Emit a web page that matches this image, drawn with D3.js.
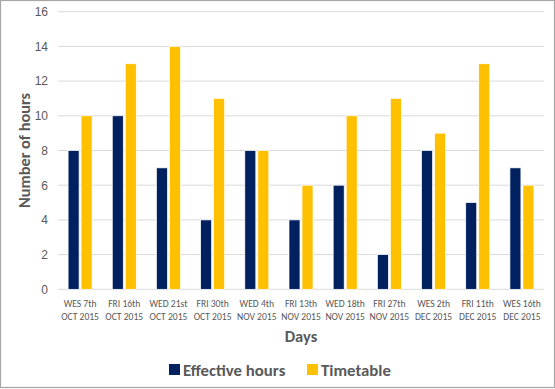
<!DOCTYPE html>
<html>
<head>
<meta charset="utf-8">
<script src="https://cdn.jsdelivr.net/npm/d3@7"></script>
<style>
  html, body { margin: 0; padding: 0; background: #fff; }
  svg { display: block; font-family: Carlito, Calibri, "Open Sans", "Liberation Sans", sans-serif; }
</style>
</head>
<body>
<svg id="chart" width="555" height="389"></svg>
<script>
// Hours per session: effective hours worked vs. timetabled hours
const days = [
  ["WES 7th", "OCT 2015"], ["FRI 16th", "OCT 2015"], ["WED 21st", "OCT 2015"],
  ["FRI 30th", "OCT 2015"], ["WED 4th", "NOV 2015"], ["FRI 13th", "NOV 2015"],
  ["WED 18th", "NOV 2015"], ["FRI 27th", "NOV 2015"], ["WES 2th", "DEC 2015"],
  ["FRI 11th", "DEC 2015"], ["WES 16th", "DEC 2015"]
];
const effectiveHours = [8, 10, 7, 4, 8, 4, 6, 2, 8, 5, 7];
const timetable = [10, 13, 14, 11, 8, 6, 10, 11, 9, 13, 6];
const yTicks = [0, 2, 4, 6, 8, 10, 12, 14, 16];
const seriesNames = ["Effective hours", "Timetable"];
const colors = ["#002060", "#FFC000"];

const svg = d3.select("#chart");
const W = 555, H = 389;
const m = { left: 58, right: 11, top: 11.7, bottom: 99.7 };

// outer frame
svg.append("rect").attr("x", 0.5).attr("y", 0.5).attr("width", W - 1).attr("height", H - 2)
  .attr("fill", "#fff").attr("stroke", "#a6a6a6").attr("stroke-width", 1.2);

const x = d3.scaleBand().domain(d3.range(days.length))
  .range([m.left, W - m.right]).paddingInner(0).paddingOuter(0);
const y = d3.scaleLinear().domain([0, 16]).range([H - m.bottom, m.top]);

// gridlines
svg.append("g").selectAll("line").data(yTicks).join("line")
  .attr("x1", m.left).attr("x2", W - m.right)
  .attr("y1", d => y(d)).attr("y2", d => y(d))
  .attr("stroke", "#d9d9d9").attr("stroke-width", 1);

// y axis labels
const yAxis = d3.axisLeft(y).tickValues(yTicks).tickSize(0).tickPadding(10);
svg.append("g").attr("transform", `translate(${m.left},0)`).call(yAxis)
  .call(g => g.select(".domain").remove())
  .call(g => g.selectAll("text").attr("fill", "#595959").attr("font-size", 12)
    .style("font-family", "inherit"));

// grouped bars
const barW = 11, gap = 2;
const series = [effectiveHours, timetable];
series.forEach((vals, si) => {
  svg.append("g").selectAll("rect").data(vals).join("rect")
    .attr("x", (d, i) => x(i) + x.bandwidth() / 2 + (si === 0 ? -barW - gap / 2 : gap / 2))
    .attr("width", barW)
    .attr("y", d => y(d))
    .attr("height", d => y(0) - y(d))
    .attr("fill", colors[si])
    .attr("stroke", "#fff").attr("stroke-width", 0.7);
});

// x category labels (two lines)
const xl = svg.append("g").selectAll("text").data(days).join("text")
  .attr("x", (d, i) => x(i) + x.bandwidth() / 2)
  .attr("y", 307)
  .attr("text-anchor", "middle")
  .attr("font-size", 9.6).attr("fill", "#595959");
xl.append("tspan").attr("x", (d, i) => x(i) + x.bandwidth() / 2).text(d => d[0]);
xl.append("tspan").attr("x", (d, i) => x(i) + x.bandwidth() / 2).attr("dy", 13).text(d => d[1]);

// axis titles
svg.append("text").attr("x", (m.left + W - m.right) / 2).attr("y", 342)
  .attr("text-anchor", "middle").attr("font-size", 16.5).attr("font-weight", "bold")
  .attr("fill", "#595959").text("Days");
svg.append("text").attr("transform", `translate(30,${(m.top + H - m.bottom) / 2}) rotate(-90)`)
  .attr("text-anchor", "middle").attr("font-size", 16.3).attr("font-weight", "bold")
  .attr("fill", "#595959").text("Number of hours");

// legend
const legendX = [169, 307];
const lg = svg.append("g").selectAll("g").data(seriesNames).join("g")
  .attr("transform", (d, i) => `translate(${legendX[i]},364)`);
lg.append("rect").attr("width", 11).attr("height", 11).attr("fill", (d, i) => colors[i]);
lg.append("text").attr("x", 14).attr("y", 11.5).attr("font-size", 16.8).attr("font-weight", "bold")
  .attr("fill", "#595959").text(d => d);
</script>
</body>
</html>
